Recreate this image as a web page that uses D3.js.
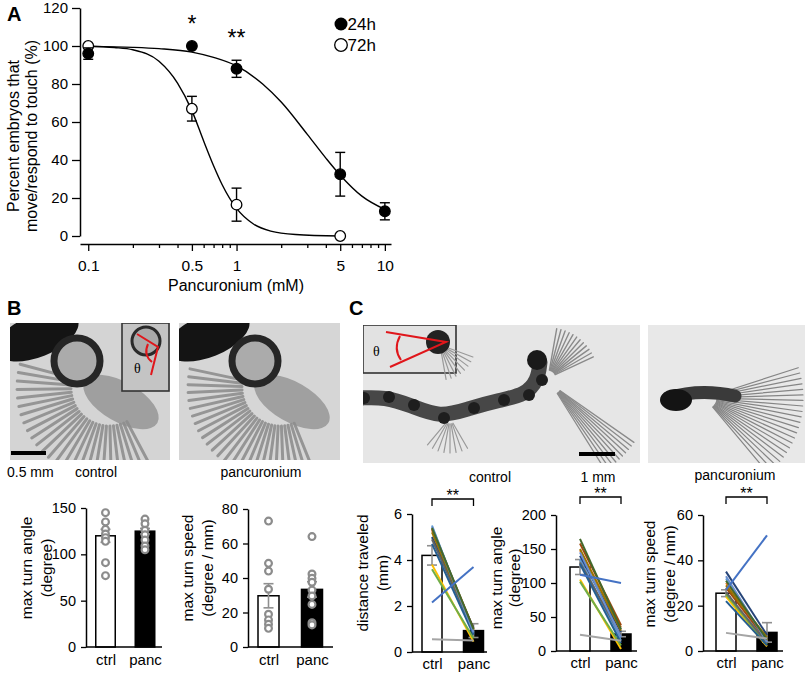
<!DOCTYPE html>
<html>
<head>
<meta charset="utf-8">
<script src="https://cdn.jsdelivr.net/npm/d3@7"></script>
<style>
  body { margin: 0; background: #fff; }
  svg { display: block; }
</style>
</head>
<body>
<svg id="fig" width="809" height="674"></svg>
<script>
// ---------- data ----------
// panel A: dose response
const conc24 = [0.1, 0.5, 1, 5, 10]
const resp24 = [96, 100, 88, 32.5, 13]
const err24 = [3, 0, 4.5, 11.5, 4.5]
const conc72 = [0.1, 0.5, 1, 5]
const resp72 = [100, 67, 16.5, 0]
const err72 = [0, 6.5, 8.7, 0]
// fitted curves: [mM, %]
const fit24 = [[0.1, 99.8], [0.2, 99.3], [0.3, 98.6], [0.5, 96.8], [0.7, 94], [1, 89.5], [1.5, 80], [2, 70.5], [3, 53.5], [4, 41], [5, 32], [7, 21], [10, 14]]
const fit72 = [[0.1, 99.9], [0.15, 99.2], [0.2, 98], [0.3, 92], [0.4, 80.5], [0.5, 66], [0.6, 50], [0.7, 37], [0.8, 27], [1, 14.5], [1.3, 6.3], [1.7, 2.6], [2.5, 0.8], [5, 0]]
const majorTicksA = [0.1, 0.5, 1, 5, 10]
const minorTicksA = [0.2, 0.3, 0.4, 0.6, 0.7, 0.8, 0.9, 2, 3, 4, 6, 7, 8, 9]
const yTicksA = [0, 20, 40, 60, 80, 100, 120]

// panel B
const groups = ['ctrl', 'panc']
const angleMeanB = [120, 125]
const angleSemB = [7, 3]
const angleCtrlB = [145, 135, 127, 122, 118, 114, 91, 77]
const anglePancB = [138, 133, 126, 121, 115.5, 109, 105]
const speedMeanB = [29.7, 33.4]
const speedSemB = [7, 4.5]
const speedCtrlB = [73, 48.5, 44, 33.5, 19, 15.7, 13.2, 10.8]
const speedPancB = [64, 42.3, 39.8, 37.5, 33, 29.6, 24.7, 14.1, 12.8]

// panel C: paired animals
const subjectColors = ['#5B9BD5', '#ED7D31', '#FFC000', '#70AD47', '#264478', '#9E480E', '#636363', '#997300', '#255E91', '#698ED0', '#43682B', '#A5A5A5', '#4472C4']
const distMeanC = [4.2, 0.93]
const distSemC = [0.42, 0.3]
const distCtrlC = [5.5, 5.3, 3.8, 3.6, 5.0, 5.35, 4.9, 5.2, 4.7, 5.45, 5.4, 0.55, 2.15]
const distPancC = [0.8, 1.0, 0.45, 0.6, 1.05, 1.0, 0.9, 0.95, 0.75, 0.85, 1.0, 0.5, 3.7]
const angleMeanC = [123.5, 25]
const angleSemC = [11, 4]
const angleCtrlC = [135, 148, 105, 102, 140, 158, 130, 150, 128, 145, 165, 24, 112]
const anglePancC = [15, 35, 3, 8, 28, 38, 22, 30, 12, 20, 32, 15, 100]
const speedMeanC = [25.5, 8.2]
const speedSemC = [1.5, 4.3]
const speedCtrlC = [32, 30, 24, 25, 35, 28, 26, 29, 22, 33, 31, 8, 27]
const speedPancC = [4, 5, 2, 3, 7, 4.5, 3.5, 6, 2.5, 4, 5, 5.5, 51]

// ---------- drawing ----------
const FONT = '"Liberation Sans", Arial, sans-serif'
const svg = d3.select('#fig').attr('font-family', FONT)
svg.append('rect').attr('width', 809).attr('height', 674).attr('fill', '#fff')

function styleAxis(g, size) {
    g.attr('font-family', FONT).attr('font-size', size)
    g.select('.domain').attr('stroke', '#000').attr('stroke-width', 1.5)
    g.selectAll('.tick line').attr('stroke', '#000').attr('stroke-width', 1.3)
    g.selectAll('.tick text').attr('fill', '#000')
}

function rotatedLabel(lines, xs, cy, size) {
    lines.forEach((t, i) => {
        svg.append('text')
            .attr('transform', `translate(${xs[i]},${cy}) rotate(-90)`)
            .attr('text-anchor', 'middle')
            .attr('dy', '0.35em')
            .attr('font-size', size)
            .text(t)
    })
}

// panel letters
;[['A', 7, 21], ['B', 7, 315], ['C', 349, 315]].forEach(([t, x, y]) => {
    svg.append('text').attr('x', x).attr('y', y).attr('font-size', 20)
        .attr('font-weight', 'bold').text(t)
})

// ----- panel A -----
const xA = d3.scaleLog().domain([0.088, 11]).range([80, 391])
const yA = d3.scaleLinear().domain([0, 120]).range([236, 8])

svg.append('g').attr('transform', 'translate(80,0)')
    .call(d3.axisLeft(yA).tickValues(yTicksA).tickSize(8).tickPadding(4).tickSizeOuter(0))
    .call(g => styleAxis(g, 15))

svg.append('g').attr('transform', 'translate(0,244)')
    .call(d3.axisBottom(xA).tickValues(majorTicksA).tickFormat(d => d).tickSize(7).tickPadding(9).tickSizeOuter(0))
    .call(g => styleAxis(g, 15.5))

svg.append('g').attr('transform', 'translate(0,244)')
    .call(d3.axisBottom(xA).tickValues(minorTicksA).tickFormat('').tickSize(4).tickSizeOuter(0))
    .call(g => { styleAxis(g, 10); g.select('.domain').remove() })

svg.append('text').attr('x', 236).attr('y', 291).attr('text-anchor', 'middle')
    .attr('font-size', 16).text('Pancuronium  (mM)')
rotatedLabel(['Percent embryos that', 'move/respond to touch (%)'], [13, 31], 136, 16)

const fitLine = d3.line().x(d => xA(d[0])).y(d => yA(d[1])).curve(d3.curveMonotoneX)
;[fit24, fit72].forEach(f => {
    svg.append('path').datum(f).attr('d', fitLine)
        .attr('fill', 'none').attr('stroke', '#000').attr('stroke-width', 1.4)
})

function doseSeries(conc, resp, err, filled) {
    const d = conc.map((c, i) => ({ c, v: resp[i], e: err[i] })).filter(p => p.e > 0)
    const eb = svg.append('g').attr('stroke', '#000').attr('stroke-width', 1.4)
    eb.selectAll(null).data(d).enter().append('line')
        .attr('x1', p => xA(p.c)).attr('x2', p => xA(p.c))
        .attr('y1', p => yA(p.v - p.e)).attr('y2', p => yA(p.v + p.e))
    ;[-1, 1].forEach(s => {
        eb.selectAll(null).data(d).enter().append('line')
            .attr('x1', p => xA(p.c) - 5).attr('x2', p => xA(p.c) + 5)
            .attr('y1', p => yA(p.v + s * p.e)).attr('y2', p => yA(p.v + s * p.e))
    })
    svg.append('g').selectAll(null).data(conc).enter().append('circle')
        .attr('cx', c => xA(c)).attr('cy', (c, i) => yA(resp[i])).attr('r', 5.3)
        .attr('fill', filled ? '#000' : '#fff').attr('stroke', '#000').attr('stroke-width', 1.3)
}
doseSeries(conc72, resp72, err72, false)
doseSeries(conc24, resp24, err24, true)

svg.append('text').attr('x', xA(0.5)).attr('y', 32).attr('text-anchor', 'middle').attr('font-size', 23).text('*')
svg.append('text').attr('x', xA(1)).attr('y', 46).attr('text-anchor', 'middle').attr('font-size', 23).text('**')

svg.append('circle').attr('cx', 341).attr('cy', 24).attr('r', 6.5).attr('fill', '#000')
svg.append('text').attr('x', 347.5).attr('y', 30).attr('font-size', 17).text('24h')
svg.append('circle').attr('cx', 341).attr('cy', 45).attr('r', 6.3).attr('fill', '#fff').attr('stroke', '#000').attr('stroke-width', 1.3)
svg.append('text').attr('x', 347.5).attr('y', 51).attr('font-size', 17).text('72h')

// ----- photos (schematic stand-ins) -----
let clipN = 0
function photoFrame(x, y, w, h, fill) {
    const id = 'clip' + (clipN++)
    svg.append('clipPath').attr('id', id).append('rect').attr('x', x).attr('y', y).attr('width', w).attr('height', h)
    const g = svg.append('g').attr('clip-path', `url(#${id})`)
    g.append('rect').attr('x', x).attr('y', y).attr('width', w).attr('height', h).attr('fill', fill)
    return g
}
function fan(g, cx, cy, a0, a1, n, r0, len, color, width) {
    const angles = d3.range(n).map(i => (a0 + (a1 - a0) * i / (n - 1)) * Math.PI / 180)
    g.selectAll(null).data(angles).enter().append('line')
        .attr('x1', a => cx + r0 * Math.cos(a)).attr('y1', a => cy + r0 * Math.sin(a))
        .attr('x2', a => cx + len * Math.cos(a)).attr('y2', a => cy + len * Math.sin(a))
        .attr('stroke', color).attr('stroke-width', width).attr('stroke-linecap', 'round')
}
function embryoB(g, ox, ringX, tailFrom, tailTo) {
    fan(g, ox + 100, 388, tailFrom, tailTo, 26, 38, 92, '#959595', 3)
    g.append('ellipse').attr('cx', ox + 112).attr('cy', 402).attr('rx', 42).attr('ry', 20)
        .attr('transform', `rotate(30,${ox + 112},402)`).attr('fill', '#8d8d8d').attr('opacity', 0.75)
    g.append('ellipse').attr('cx', ox + 28).attr('cy', 336).attr('rx', 44).attr('ry', 21)
        .attr('transform', `rotate(-22,${ox + 28},336)`).attr('fill', '#141414')
    g.append('circle').attr('cx', ringX).attr('cy', 361).attr('r', 23)
        .attr('fill', '#ababab').attr('stroke', '#262626').attr('stroke-width', 7)
}

const pB1 = photoFrame(10, 323, 160, 137, '#d4d4d4')
embryoB(pB1, 9, 77, 195, 62)
pB1.append('rect').attr('x', 122).attr('y', 323).attr('width', 47).attr('height', 68)
    .attr('fill', '#c4c4c4').attr('stroke', '#333').attr('stroke-width', 1.6)
pB1.append('circle').attr('cx', 146).attr('cy', 341).attr('r', 14).attr('fill', '#aaa').attr('stroke', '#2a2a2a').attr('stroke-width', 3)
pB1.append('path').attr('d', 'M137,334 L158,347 L151,375').attr('fill', 'none').attr('stroke', '#e0161b').attr('stroke-width', 2)
pB1.append('path').attr('d', 'M148,344 Q143,355 152,362').attr('fill', 'none').attr('stroke', '#e0161b').attr('stroke-width', 2)
pB1.append('text').attr('x', 134).attr('y', 373).attr('font-family', '"Liberation Serif", serif').attr('font-size', 14).text('θ')
svg.append('rect').attr('x', 11).attr('y', 451).attr('width', 35).attr('height', 4).attr('fill', '#000')

const pB2 = photoFrame(179, 323, 161, 137, '#d6d6d6')
embryoB(pB2, 180, 255, 192, 68)

const pC1 = photoFrame(363, 325, 277, 138, '#e6e6e6')
fan(pC1, 548, 378, -80, -25, 12, 8, 50, '#8a8a8a', 1.4)
fan(pC1, 552, 385, 35, 58, 10, 10, 100, '#8a8a8a', 1.3)
fan(pC1, 450, 418, 60, 130, 8, 6, 35, '#999', 1.2)
const chain = [[360, 398], [385, 397], [410, 405], [440, 418], [470, 408], [500, 400], [525, 395], [538, 380], [540, 362]]
pC1.append('path').datum(chain).attr('d', d3.line().curve(d3.curveBasis))
    .attr('fill', 'none').attr('stroke', '#474747').attr('stroke-width', 15).attr('stroke-linecap', 'round')
pC1.selectAll(null).data(chain.slice(0, 8)).enter().append('circle')
    .attr('cx', d => d[0] + 4).attr('cy', d => d[1]).attr('r', 6).attr('fill', '#1e1e1e')
pC1.append('circle').attr('cx', 537).attr('cy', 360).attr('r', 10).attr('fill', '#1a1a1a')
pC1.append('rect').attr('x', 363).attr('y', 325).attr('width', 93).attr('height', 48)
    .attr('fill', '#e2e2e2').attr('stroke', '#333').attr('stroke-width', 1.6)
fan(pC1, 440, 345, 20, 80, 8, 6, 35, '#999', 1.2)
pC1.append('circle').attr('cx', 438).attr('cy', 342).attr('r', 12).attr('fill', '#222')
pC1.append('path').attr('d', 'M386,332 L446,342 L390,367').attr('fill', 'none').attr('stroke', '#e0161b').attr('stroke-width', 2)
pC1.append('path').attr('d', 'M400,336 Q393,349 401,360').attr('fill', 'none').attr('stroke', '#e0161b').attr('stroke-width', 2)
pC1.append('text').attr('x', 373).attr('y', 356).attr('font-family', '"Liberation Serif", serif').attr('font-size', 14).text('θ')
svg.append('rect').attr('x', 579).attr('y', 452).attr('width', 36).attr('height', 4).attr('fill', '#000')

const pC2 = photoFrame(648, 325, 157, 138, '#e8e8e8')
fan(pC2, 705, 398, -18, 50, 22, 12, 98, '#858585', 1.2)
pC2.append('path').attr('d', 'M668,398 Q700,388 735,396').attr('fill', 'none').attr('stroke', '#3a3a3a').attr('stroke-width', 13).attr('stroke-linecap', 'round')
pC2.append('ellipse').attr('cx', 676).attr('cy', 400).attr('rx', 16).attr('ry', 11).attr('fill', '#141414')

// photo captions
;[['0.5 mm', 7, 477, 'start'], ['control', 96, 477, 'middle'], ['pancuronium', 261, 477, 'middle'],
  ['control', 490, 482, 'middle'], ['1 mm', 598, 482, 'middle'], ['pancuronium', 735, 480, 'middle']]
    .forEach(([t, x, y, a]) => svg.append('text').attr('x', x).attr('y', y).attr('text-anchor', a).attr('font-size', 14).text(t))

// ----- bar panels -----
function barPanel(cfg) {
    const y = d3.scaleLinear().domain([0, cfg.max]).range([cfg.bottom, cfg.top])
    const x = d3.scalePoint().domain(groups).range(cfg.centers)
    const g = svg.append('g')

    g.selectAll(null).data(cfg.means).enter().append('rect')
        .attr('x', (d, i) => x(groups[i]) - cfg.barW / 2).attr('width', cfg.barW)
        .attr('y', d => y(d)).attr('height', d => y(0) - y(d))
        .attr('fill', (d, i) => i ? '#000' : '#fff').attr('stroke', '#000').attr('stroke-width', 1.5)

    const eb = g.append('g').attr('stroke', '#8f8f8f').attr('stroke-width', 1.6)
    cfg.means.forEach((m, i) => {
        const cx = x(groups[i]), lo = y(m - cfg.sems[i]), hi = y(m + cfg.sems[i])
        eb.append('line').attr('x1', cx).attr('x2', cx).attr('y1', lo).attr('y2', hi)
        eb.append('line').attr('x1', cx - 5).attr('x2', cx + 5).attr('y1', lo).attr('y2', lo)
        eb.append('line').attr('x1', cx - 5).attr('x2', cx + 5).attr('y1', hi).attr('y2', hi)
    })

    if (cfg.dots) {
        cfg.dots.forEach((vals, i) => {
            g.selectAll(null).data(vals).enter().append('circle')
                .attr('cx', x(groups[i])).attr('cy', d => y(d)).attr('r', 3.4)
                .attr('fill', '#fff').attr('stroke', '#8c8c8c').attr('stroke-width', 2.2)
        })
    }
    if (cfg.pairs) {
        const [a, b] = cfg.pairs
        g.selectAll(null).data(a).enter().append('line')
            .attr('x1', x('ctrl')).attr('x2', x('panc'))
            .attr('y1', d => y(d)).attr('y2', (d, i) => y(b[i]))
            .attr('stroke', (d, i) => subjectColors[i]).attr('stroke-width', 2)
    }

    g.append('g').attr('transform', `translate(${cfg.axisX},0)`)
        .call(d3.axisLeft(y).tickValues(cfg.ticks).tickFormat(d3.format('d')).tickSize(5).tickPadding(5).tickSizeOuter(0))
        .call(a => styleAxis(a, 14.5))
    g.append('line').attr('x1', cfg.axisX).attr('x2', cfg.right).attr('y1', y(0)).attr('y2', y(0))
        .attr('stroke', '#000').attr('stroke-width', 1.5)

    g.append('g').attr('transform', `translate(0,${cfg.labelY})`)
        .call(d3.axisBottom(x).tickSize(0).tickPadding(0))
        .call(a => { styleAxis(a, 15); a.select('.domain').remove(); a.selectAll('text').attr('dy', 0) })

    if (cfg.bracketY) {
        const [x0, x1] = cfg.centers, by = cfg.bracketY
        g.append('path').attr('d', `M${x0},${by + 7}V${by}H${x1}V${by + 7}`)
            .attr('fill', 'none').attr('stroke', '#000').attr('stroke-width', 1.3)
        g.append('text').attr('x', (x0 + x1) / 2).attr('y', by + 2).attr('text-anchor', 'middle')
            .attr('font-size', 16).text('**')
    }
    rotatedLabel(cfg.label, cfg.labelX, cfg.labelCY, 15.5)
}

barPanel({ max: 150, ticks: [0, 50, 100, 150], top: 508, bottom: 647, axisX: 86, right: 162,
    centers: [105.5, 145], barW: 19.5, means: angleMeanB, sems: angleSemB, dots: [angleCtrlB, anglePancB],
    labelY: 665, label: ['max turn angle', '(degree)'], labelX: [27, 47], labelCY: 568 })
barPanel({ max: 80, ticks: [0, 20, 40, 60, 80], top: 509, bottom: 647, axisX: 248, right: 333,
    centers: [268.5, 312], barW: 21, means: speedMeanB, sems: speedSemB, dots: [speedCtrlB, speedPancB],
    labelY: 665, label: ['max turn speed', '(degree / mm)'], labelX: [188, 208], labelCY: 568 })

barPanel({ max: 6, ticks: [0, 2, 4, 6], top: 514, bottom: 652, axisX: 412, right: 487,
    centers: [432, 473.5], barW: 20, means: distMeanC, sems: distSemC, pairs: [distCtrlC, distPancC],
    labelY: 669, bracketY: 499, label: ['distance traveled', '(mm)'], labelX: [363, 383], labelCY: 573 })
barPanel({ max: 200, ticks: [0, 50, 100, 150, 200], top: 515, bottom: 651, axisX: 556, right: 637,
    centers: [580, 621], barW: 20, means: angleMeanC, sems: angleSemC, pairs: [angleCtrlC, anglePancC],
    labelY: 668, bracketY: 497, label: ['max turn angle', '(degree)'], labelX: [497, 515], labelCY: 578 })
barPanel({ max: 60, ticks: [0, 20, 40, 60], top: 515, bottom: 651, axisX: 703, right: 783,
    centers: [726, 767], barW: 20, means: speedMeanC, sems: speedSemC, pairs: [speedCtrlC, speedPancC],
    labelY: 668, bracketY: 497, label: ['max turn speed', '(degree / mm)'], labelX: [650, 670], labelCY: 574 })
</script>
</body>
</html>
